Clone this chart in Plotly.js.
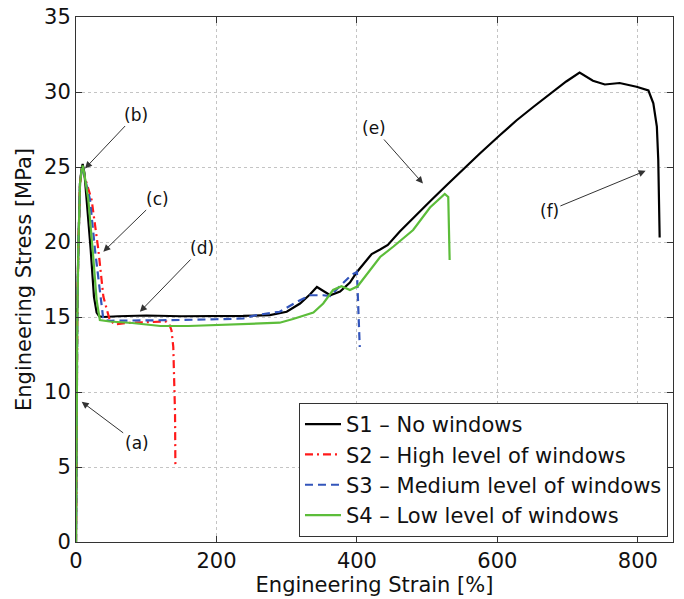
<!DOCTYPE html>
<html>
<head>
<meta charset="utf-8">
<script src="https://cdn.plot.ly/plotly-3.0.1.min.js"></script>
<style>html,body{margin:0;padding:0;background:#fff;}#chart{width:684px;height:599px;}</style>
</head>
<body>
<div id="chart"></div>
<script>
// Series names
const seriesNames = ["S1 \u2013 No windows", "S2 \u2013 High level of windows", "S3 \u2013 Medium level of windows", "S4 \u2013 Low level of windows"];

// S1 – No windows
const s1Strain = [0, 0.5, 1, 1.5, 3.3, 5.7, 8, 9.5, 12, 15.2, 20.9, 25.6, 29.4, 33, 39, 60, 100, 150, 200, 238, 276, 300, 319, 333, 343, 350, 362, 376, 390, 400, 421, 433, 444, 461, 480, 506, 528, 550, 575, 603, 627, 651, 675, 698, 717, 736, 753, 774, 798, 815, 822, 827, 829, 831];
const s1Stress = [0, 4, 10, 15, 19.5, 23.9, 24.9, 25.2, 24.6, 22.8, 19.5, 16.35, 15.3, 15.05, 15.0, 15.05, 15.1, 15.05, 15.05, 15.07, 15.13, 15.35, 15.9, 16.5, 17.0, 16.8, 16.45, 16.7, 17.3, 18.0, 19.2, 19.5, 19.8, 20.7, 21.6, 22.8, 23.8, 24.8, 25.9, 27.1, 28.1, 29.0, 29.9, 30.7, 31.3, 30.75, 30.5, 30.6, 30.35, 30.1, 29.25, 27.7, 25.5, 20.3];

// S2 – High level of windows
const s2Strain = [0, 0.5, 1, 1.9, 3.3, 5.7, 8, 9.5, 12, 22.3, 31.8, 39, 48, 55.5, 70, 100, 129, 133, 136, 138.5, 141, 141.5];
const s2Stress = [0, 4, 10, 15, 19.5, 23.9, 24.8, 25.0, 24.4, 22.8, 19.5, 16.35, 14.8, 14.5, 14.6, 14.65, 14.7, 14.5, 14.1, 13.0, 8.6, 5.1];

// S3 – Medium level of windows
const s3Strain = [0, 0.5, 1, 1.9, 3.3, 5.7, 8, 9.5, 12, 20, 27, 35, 39, 50, 100, 150, 200, 238, 257, 290, 314, 333, 352, 362, 380, 392, 400, 401, 402, 404];
const s3Stress = [0, 4, 10, 15, 19.5, 23.9, 24.8, 25.0, 24.4, 22.8, 19.5, 16.35, 14.8, 14.75, 14.75, 14.8, 14.85, 14.9, 15.13, 15.35, 16.0, 16.45, 16.45, 16.4, 17.25, 17.8, 18.0, 17.0, 15.0, 13.0];

// S4 – Low level of windows
const s4Strain = [0, 0.5, 1, 1.9, 3.3, 5.7, 8, 9.5, 12, 17.6, 23.7, 29.4, 34, 48, 80, 120, 160, 200, 240, 276, 290, 309, 328, 338, 352, 366, 378, 390, 401, 415, 433, 452, 480, 504, 518, 525, 530, 531, 532];
const s4Stress = [0, 4, 10, 15, 19.5, 23.9, 24.8, 25.1, 24.5, 22.8, 19.5, 16.1, 14.8, 14.7, 14.6, 14.4, 14.4, 14.47, 14.5, 14.6, 14.62, 14.87, 15.13, 15.3, 15.9, 16.8, 17.05, 16.8, 17.05, 17.9, 19.0, 19.7, 20.8, 22.3, 22.9, 23.2, 23.0, 21.0, 18.8];

// Annotation labels: arrow tip (x,y) and label position (ax,ay) in data units
const annLabels = ["(a)", "(b)", "(c)", "(d)", "(e)", "(f)"];
const annTipX = [8.1, 12.8, 38.9, 91, 494, 811];
const annTipY = [9.35, 24.9, 19.35, 15.35, 23.9, 24.75];
const annTextX = [86.4, 85.4, 116.7, 179, 424, 674];
const annTextY = [6.6, 28.5, 22.9, 19.6, 27.6, 22.1];

const xTicks = [0, 200, 400, 600, 800];
const yTicks = [0, 5, 10, 15, 20, 25, 30, 35];

const traces = [
  {x: s1Strain, y: s1Stress, name: seriesNames[0], mode: "lines", line: {color: "#000000", width: 2.2}},
  {x: s2Strain, y: s2Stress, name: seriesNames[1], mode: "lines", line: {color: "#ff1a1a", width: 2.2, dash: "8px,4px,2px,4px"}},
  {x: s3Strain, y: s3Stress, name: seriesNames[2], mode: "lines", line: {color: "#3355bb", width: 2.2, dash: "8px,5px"}},
  {x: s4Strain, y: s4Stress, name: seriesNames[3], mode: "lines", line: {color: "#5cbd3a", width: 2.2}}
];

const fontFam = "DejaVu Sans, Verdana, sans-serif";
const annotations = annLabels.map((t, i) => ({
  x: annTipX[i], y: annTipY[i], xref: "x", yref: "y",
  ax: annTextX[i], ay: annTextY[i], axref: "x", ayref: "y",
  text: t, showarrow: true, arrowhead: 2, arrowsize: 1.4, arrowwidth: 1,
  arrowcolor: "#333", font: {family: fontFam, size: 17, color: "#111"}
}));

const layout = {
  width: 684, height: 599,
  margin: {l: 76, r: 11, t: 17, b: 57},
  paper_bgcolor: "#ffffff", plot_bgcolor: "#ffffff",
  font: {family: fontFam, size: 21, color: "#111"},
  showlegend: true,
  legend: {x: 0.9916, y: 0.0095, xanchor: "right", yanchor: "bottom",
    bgcolor: "#ffffff", bordercolor: "#333", borderwidth: 1, itemwidth: 36,
    font: {family: fontFam, size: 21, color: "#111"}},
  xaxis: {
    range: [0, 850], tickvals: xTicks, ticktext: xTicks.map(String),
    showgrid: true, gridcolor: "#c4c4c4", griddash: "dot", gridwidth: 1,
    zeroline: false, showline: true, linecolor: "#333", linewidth: 1, mirror: "ticks",
    ticks: "inside", ticklen: 6, tickcolor: "#333",
    title: {text: "Engineering Strain [%]", font: {size: 21}, standoff: 0},
    tickfont: {size: 21}
  },
  yaxis: {
    range: [0, 35], tickvals: yTicks, ticktext: yTicks.map(String),
    showgrid: true, gridcolor: "#c4c4c4", griddash: "dot", gridwidth: 1,
    zeroline: false, showline: true, linecolor: "#333", linewidth: 1, mirror: "ticks",
    ticks: "inside", ticklen: 6, tickcolor: "#333",
    title: {text: "Engineering Stress [MPa]", font: {size: 21}, standoff: 6},
    tickfont: {size: 21}
  },
  annotations: annotations
};

Plotly.newPlot("chart", traces, layout, {displayModeBar: false, staticPlot: true});
</script>
</body>
</html>
